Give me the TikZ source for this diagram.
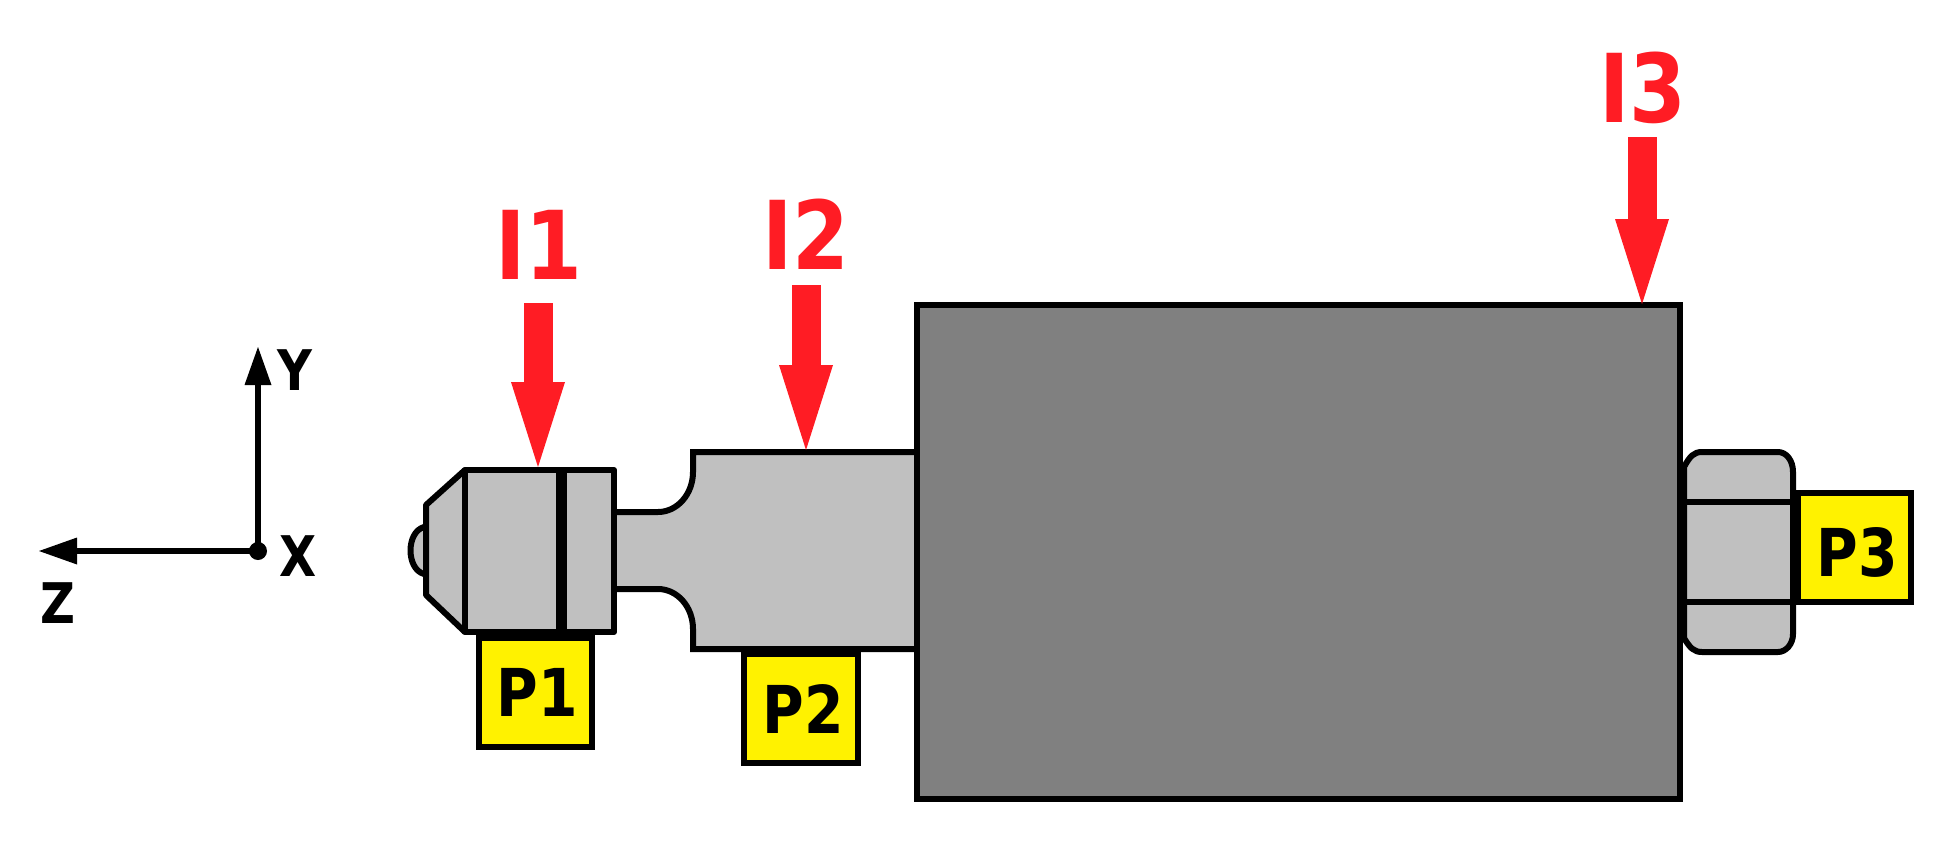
\documentclass[tikz,border=0pt]{standalone}
\usepackage{fontspec}
\setmainfont{DejaVu Sans}[FakeStretch=0.86]
\usetikzlibrary{arrows.meta}
\definecolor{partgray}{HTML}{C0C0C0}
\definecolor{boxgray}{HTML}{808080}
\definecolor{tagyellow}{HTML}{FFF200}
\definecolor{loadred}{HTML}{FF1C24}
\tikzset{
  x=1pt,y=-1pt,
  part/.style={draw=black,line width=6pt,fill=partgray,line join=round},
  edge/.style={draw=black,line width=6pt},
  housing/.style={draw=black,line width=6pt,fill=boxgray},
  tag/.style={draw=black,line width=6pt,fill=tagyellow},
  tagtext/.style={font=\fontsize{66}{66}\selectfont\bfseries,text=black,inner sep=0pt,anchor=center},
  loadtext/.style={font=\fontsize{95}{95}\selectfont\bfseries,text=loadred,inner sep=0pt,anchor=center},
  axistext/.style={font=\fontsize{56}{56}\selectfont\bfseries,text=black,inner sep=0pt,anchor=center},
  loadarrow/.style={draw=loadred,line width=29pt,-{Triangle[length=85pt,width=54pt,line width=0pt]}},
  axisarrow/.style={draw=black,line width=5.5pt,-{Triangle[length=38pt,width=27pt,line width=0pt]}},
}
\begin{document}
\begin{tikzpicture}
\path[use as bounding box,fill=white] (0,0) rectangle (1954,846);

% axes
\coordinate (axY) at (258,347);
\coordinate (axZ) at (39,551);
\node[circle,fill=black,minimum size=18pt,inner sep=0pt] (org) at (258,551) {};
\draw[axisarrow] (org.center) -- (axY);
\draw[axisarrow] (org.center) -- (axZ);
\node[axistext] (lY) at (295,370) {Y};
\node[axistext] (lX) at (298,556) {X};
\node[axistext] (lZ) at (58,603) {Z};

% tip dome and cone
\draw[part] (424,527) .. controls (406,532) and (406,569) .. (424,574);
\draw[part] (465,470) -- (426,505) -- (426,595) -- (465,632) -- cycle;

% stem
\fill[partgray] (610,512) -- (658,512) arc[start angle=90,end angle=0,x radius=35,y radius=40] -- (693,452) -- (920,452)
  -- (920,649) -- (693,649) -- (693,629) arc[start angle=0,end angle=-90,x radius=35,y radius=40] -- (610,589) -- cycle;
\draw[edge] (612,512) -- (658,512) arc[start angle=90,end angle=0,x radius=35,y radius=40] -- (693,452) -- (920,452);
\draw[edge] (612,589) -- (658,589) arc[start angle=-90,end angle=0,x radius=35,y radius=40] -- (693,649) -- (920,649);

% collar
\draw[part] (465,470) rectangle (614,632);
\fill[black] (556,470) rectangle (567,632);

% tags P1 P2
\draw[tag] (479,638) rectangle (592,747);
\node[tagtext] (p1) at (537,692) {P1};
\draw[tag] (744,654) rectangle (858,763);
\node[tagtext] (p2) at (803,709) {P2};

% nut and tag P3
\draw[part] (1684,467) .. controls (1690,456) and (1694,452) .. (1702,452) -- (1778,452)
  .. controls (1786,452) and (1793,460) .. (1793,472) -- (1793,634)
  .. controls (1793,644) and (1786,652) .. (1778,652) -- (1702,652)
  .. controls (1694,652) and (1690,648) .. (1684,638) -- cycle;
\draw[edge] (1684,502) -- (1793,502);
\draw[edge] (1684,602) -- (1793,602);
\draw[tag] (1798,493) rectangle (1911,602);
\node[tagtext] (p3) at (1857,552) {P3};

% housing
\draw[housing] (917,305) rectangle (1680,799);

% loads
\coordinate (a1s) at (538,303); \coordinate (a1e) at (538,467);
\coordinate (a2s) at (806,285); \coordinate (a2e) at (806,450);
\coordinate (a3s) at (1642,137); \coordinate (a3e) at (1642,304);
\draw[loadarrow] (a1s) -- (a1e);
\draw[loadarrow] (a2s) -- (a2e);
\draw[loadarrow] (a3s) -- (a3e);
\node[loadtext] (i1) at (539,245) {I1};
\node[loadtext] (i2) at (806,234) {I2};
\node[loadtext] (i3) at (1643,88) {I3};
\end{tikzpicture}
\end{document}
